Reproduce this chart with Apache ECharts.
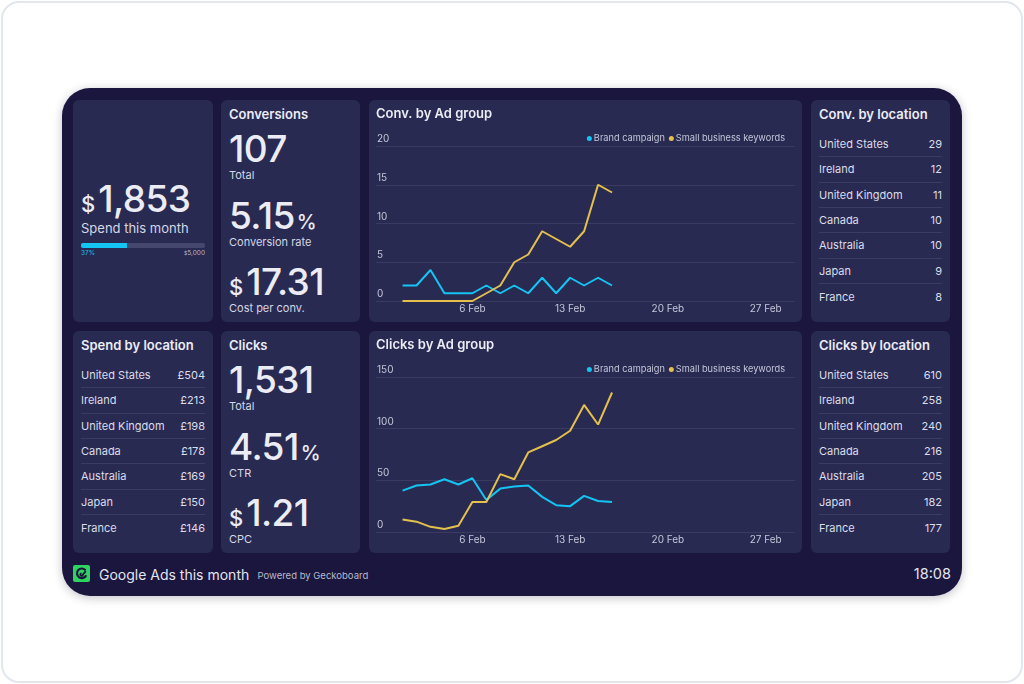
<!DOCTYPE html>
<html>
<head>
<meta charset="utf-8">
<title>Google Ads this month</title>
<script src="https://cdn.jsdelivr.net/npm/echarts@6/dist/echarts.min.js"></script>
<style>
  body {
    margin: 0;
    width: 1024px;
    height: 684px;
    background: #fff;
    font-family: Inter, 'Noto Sans', sans-serif;
    overflow: hidden;
    position: relative;
  }
  .frame {
    position: absolute;
    left: 1px;
    top: 1px;
    width: 1018px;
    height: 678px;
    border: 2px solid #e2e7ee;
    border-radius: 18px;
  }
  .board {
    position: absolute;
    left: 62px;
    top: 88px;
    width: 900px;
    height: 508px;
    background: #1a163e;
    border-radius: 28px;
    box-shadow: 0 2px 10px rgba(20, 20, 50, 0.25);
  }
  .panel {
    position: absolute;
    background: #282a52;
    border-radius: 6px;
    color: #ececf4;
  }
  .title {
    position: absolute;
    left: 8px;
    top: 7.5px;
    font-size: 13px;
    line-height: 13px;
    font-weight: 600;
    color: #ececf5;
    white-space: nowrap;
  }
  .big {
    position: absolute;
    left: 8px;
    font-size: 37px;
    line-height: 37px;
    font-weight: 500;
    letter-spacing: -0.6px;
    color: #ececf4;
    white-space: nowrap;
  }
  .cur {
    font-size: 22px;
    margin-right: 3px;
    letter-spacing: 0;
  }
  .pct {
    font-size: 20px;
    margin-left: 2px;
    letter-spacing: 0;
  }
  .sub {
    position: absolute;
    left: 8px;
    font-size: 11px;
    line-height: 11px;
    color: #d6d7e4;
    white-space: nowrap;
  }
  .row {
    position: absolute;
    left: 8px;
    right: 8px;
    height: 25.33px;
    box-sizing: border-box;
    border-bottom: 1px solid #3a3c65;
    display: flex;
    justify-content: space-between;
    align-items: center;
    font-size: 11px;
    color: #dcdde9;
  }
  .row.last { border-bottom: none; }
  .tiny {
    position: absolute;
    top: 149.5px;
    font-size: 6.5px;
    line-height: 7px;
  }
  .footer {
    position: absolute;
    white-space: nowrap;
    color: #e4e4ee;
  }
</style>
</head>
<body>
<div class="frame"></div>
<div class="board"></div>

<!-- row 1 -->
<div class="panel" style="left:73px;top:100px;width:140px;height:222px">
  <div class="big" style="top:79.5px"><span class="cur">$</span><span id="spendVal"></span></div>
  <div class="sub" style="top:121.5px;font-size:13px;line-height:13px">Spend this month</div>
  <div id="progress" style="position:absolute;left:8px;top:143px;width:124px;height:5px"></div>
  <div class="tiny" id="progressPct" style="left:8px;color:#14c4f2"></div>
  <div class="tiny" id="progressTarget" style="right:8px;color:#b4b5c9"></div>
</div>

<div class="panel" style="left:221px;top:100px;width:139px;height:222px">
  <div class="title">Conversions</div>
  <div class="big" style="top:29.5px" id="convTotal"></div>
  <div class="sub" style="top:70px">Total</div>
  <div class="big" style="top:96.5px"><span id="convRate"></span><span class="pct">%</span></div>
  <div class="sub" style="top:137px">Conversion rate</div>
  <div class="big" style="top:163px"><span class="cur">$</span><span id="costPerConv"></span></div>
  <div class="sub" style="top:203px">Cost per conv.</div>
</div>

<div class="panel" id="convChart" style="left:369px;top:100px;width:433px;height:222px"></div>

<div class="panel" id="convLoc" style="left:811px;top:100px;width:139px;height:222px">
  <div class="title">Conv. by location</div>
</div>

<!-- row 2 -->
<div class="panel" id="spendLoc" style="left:73px;top:331px;width:140px;height:222px">
  <div class="title">Spend by location</div>
</div>

<div class="panel" style="left:221px;top:331px;width:139px;height:222px">
  <div class="title">Clicks</div>
  <div class="big" style="top:29.5px" id="clicksTotal"></div>
  <div class="sub" style="top:70px">Total</div>
  <div class="big" style="top:96.5px"><span id="ctr"></span><span class="pct">%</span></div>
  <div class="sub" style="top:137px">CTR</div>
  <div class="big" style="top:163px"><span class="cur">$</span><span id="cpc"></span></div>
  <div class="sub" style="top:203px">CPC</div>
</div>

<div class="panel" id="clicksChart" style="left:369px;top:331px;width:433px;height:222px"></div>

<div class="panel" id="clicksLoc" style="left:811px;top:331px;width:139px;height:222px">
  <div class="title">Clicks by location</div>
</div>

<!-- footer -->
<svg class="footer" style="left:73px;top:565px" width="17" height="17" viewBox="0 0 17 17">
  <rect width="17" height="17" rx="2" fill="#2fd35f"/>
  <path d="M12.6 5.4 A4.8 4.8 0 1 0 13.2 10.2" fill="none" stroke="#19163d" stroke-width="2.2"/>
  <path d="M8.6 8.3 A1.3 1.3 0 1 0 9.9 9.6 L12.8 6.2" fill="none" stroke="#19163d" stroke-width="1.8"/>
</svg>
<div class="footer" style="left:99px;top:566px;font-size:14px;line-height:18px">Google Ads this month</div>
<div class="footer" style="left:257.5px;top:570px;font-size:9.5px;line-height:12px;color:#b8b9cb">Powered by Geckoboard</div>
<div class="footer" style="right:73px;top:565px;font-size:14.5px;line-height:18px">18:08</div>

<script>
// ---- data ----
const days = [1, 2, 3, 4, 5, 6, 7, 8, 9, 10, 11, 12, 13, 14, 15, 16]
const tickDays = [6, 13, 20, 27]
const seriesNames = ['Brand campaign', 'Small business keywords']
const brandConv = [2, 2, 4, 1, 1, 1, 2, 1, 2, 1, 3, 1, 3, 2, 3, 2]
const smallBizConv = [0, 0, 0, 0, 0, 0, 1, 2, 5, 6, 9, 8, 7, 9, 15, 14]
const brandClicks = [40, 45, 46, 51, 46, 52, 31, 42, 44, 45, 34, 26, 25, 35, 30, 29]
const smallBizClicks = [12, 10, 5, 3, 6, 29, 29, 56, 51, 77, 83, 89, 98, 123, 104, 135]

const locations = ['United States', 'Ireland', 'United Kingdom', 'Canada', 'Australia', 'Japan', 'France']
const convByLocation = [29, 12, 11, 10, 10, 9, 8]
const spendByLocation = [504, 213, 198, 178, 169, 150, 146]
const clicksByLocation = [610, 258, 240, 216, 205, 182, 177]

const spendThisMonth = 1853
const spendTarget = 5000
const convTotal = 107
const convRate = 5.15
const costPerConv = 17.31
const clicksTotal = 1531
const ctr = 4.51
const cpc = 1.21

const BRAND_COLOR = '#14c4f2'
const SMALLBIZ_COLOR = '#e4c04c'
const FONT = 'Inter, "Noto Sans", sans-serif'

// ---- numbers ----
const fmt = (v) => v.toLocaleString('en-US')
document.getElementById('spendVal').textContent = fmt(spendThisMonth)
document.getElementById('convTotal').textContent = fmt(convTotal)
document.getElementById('convRate').textContent = convRate.toFixed(2)
document.getElementById('costPerConv').textContent = costPerConv.toFixed(2)
document.getElementById('clicksTotal').textContent = fmt(clicksTotal)
document.getElementById('ctr').textContent = ctr.toFixed(2)
document.getElementById('cpc').textContent = cpc.toFixed(2)
document.getElementById('progressPct').textContent = Math.round(spendThisMonth / spendTarget * 100) + '%'
document.getElementById('progressTarget').innerHTML = '<span style="font-size:5px">$</span>' + fmt(spendTarget)

// ---- location tables ----
function fillTable(id, values, prefix) {
  const el = document.getElementById(id)
  locations.forEach((name, i) => {
    const row = document.createElement('div')
    row.className = 'row' + (i === locations.length - 1 ? ' last' : '')
    row.style.top = (32 + i * 25.33) + 'px'
    row.innerHTML = `<span>${name}</span><span>${prefix}${values[i]}</span>`
    el.appendChild(row)
  })
}
fillTable('convLoc', convByLocation, '')
fillTable('spendLoc', spendByLocation, '£')
fillTable('clicksLoc', clicksByLocation, '')

// ---- progress bar ----
const progress = echarts.init(document.getElementById('progress'))
progress.setOption({
  animation: false,
  grid: { left: 0, right: 0, top: 0, bottom: 0, containLabel: false, outerBoundsMode: 'none' },
  xAxis: { type: 'value', min: 0, max: spendTarget, show: false },
  yAxis: { type: 'category', data: ['spend'], show: false },
  series: [{
    type: 'bar',
    data: [spendThisMonth],
    barWidth: 5,
    showBackground: true,
    backgroundStyle: { color: '#46476f', borderRadius: 2 },
    itemStyle: { color: BRAND_COLOR, borderRadius: [2, 0, 0, 2] },
  }],
})

// ---- line charts ----
function lineChart(id, title, brand, smallBiz, yMax, yInterval) {
  const chart = echarts.init(document.getElementById(id))
  chart.setOption({
    animation: false,
    textStyle: { fontFamily: FONT },
    title: {
      text: title,
      left: 7,
      top: 7,
      padding: 0,
      textStyle: { color: '#ececf5', fontSize: 13, fontWeight: 600, lineHeight: 14, fontFamily: FONT },
    },
    legend: {
      data: seriesNames,
      right: 17,
      top: 34,
      padding: 0,
      icon: 'circle',
      itemWidth: 5,
      itemHeight: 5,
      itemGap: 4,
      textStyle: { color: '#c5c6d9', fontSize: 9.2, fontFamily: FONT, padding: [0, 0, 0, -3] },
    },
    grid: { left: 7, right: 7, top: 46, bottom: 21, containLabel: false, outerBoundsMode: 'none' },
    xAxis: {
      type: 'value',
      min: -0.9,
      max: 29.1,
      axisLine: { show: false },
      axisTick: { show: false },
      splitLine: { show: false },
      axisLabel: {
        customValues: tickDays,
        formatter: (v) => v + ' Feb',
        color: '#c5c6d9',
        fontSize: 10,
        margin: 3,
        fontFamily: FONT,
      },
    },
    yAxis: {
      type: 'value',
      min: 0,
      max: yMax,
      interval: yInterval,
      axisLine: { show: false },
      axisTick: { show: false },
      splitLine: { lineStyle: { color: '#393b63', width: 1 } },
      axisLabel: {
        inside: true,
        margin: 1,
        verticalAlign: 'bottom',
        padding: [0, 0, 2, 0],
        color: '#c5c6d9',
        fontSize: 10,
        fontFamily: FONT,
      },
    },
    series: [
      {
        name: seriesNames[0],
        type: 'line',
        data: days.map((d, i) => [d, brand[i]]),
        showSymbol: false,
        color: BRAND_COLOR,
        lineStyle: { width: 2, color: BRAND_COLOR },
      },
      {
        name: seriesNames[1],
        type: 'line',
        data: days.map((d, i) => [d, smallBiz[i]]),
        showSymbol: false,
        color: SMALLBIZ_COLOR,
        lineStyle: { width: 2, color: SMALLBIZ_COLOR },
      },
    ],
  })
  return chart
}

lineChart('convChart', 'Conv. by Ad group', brandConv, smallBizConv, 20, 5)
lineChart('clicksChart', 'Clicks by Ad group', brandClicks, smallBizClicks, 150, 50)
</script>
</body>
</html>
